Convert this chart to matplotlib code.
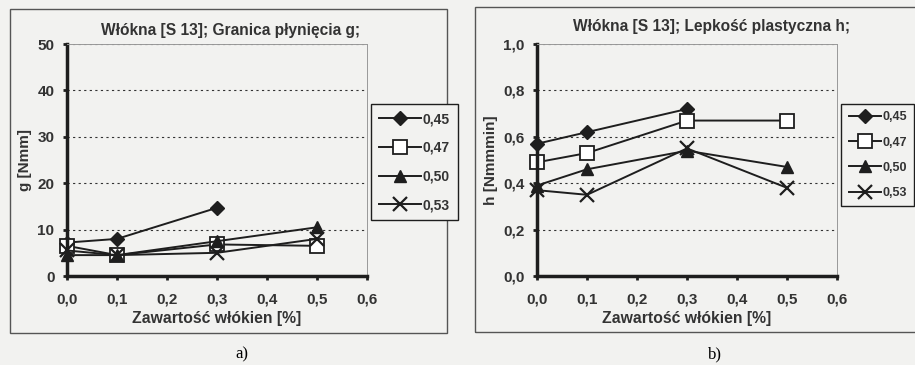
import numpy as np
import matplotlib.pyplot as plt
from matplotlib.patches import Rectangle
from matplotlib.lines import Line2D

plt.rcParams['font.family'] = ['Liberation Sans', 'DejaVu Sans']
plt.rcParams['font.weight'] = 'bold'
plt.rcParams['axes.labelweight'] = 'bold'

x = [0.0, 0.1, 0.3, 0.5]
series = ['0,45', '0,47', '0,50', '0,53']

# granica plyniecia g [Nmm]
g_045 = [7.2, 8.0, 14.7, np.nan]
g_047 = [6.5, 4.5, 6.8, 6.5]
g_050 = [4.5, 4.5, 7.5, 10.5]
g_053 = [5.5, 4.5, 5.0, 8.0]

# lepkosc plastyczna h [Nmmmin]
h_045 = [0.57, 0.62, 0.72, np.nan]
h_047 = [0.49, 0.53, 0.67, 0.67]
h_050 = [0.39, 0.46, 0.54, 0.47]
h_053 = [0.37, 0.35, 0.55, 0.38]

W, H = 915, 365
bg = '#f2f2f0'
ink = '#1e1e1e'
txt = '#333333'

markers = [dict(marker='D', ms=7, mfc=ink, mec=ink),
           dict(marker='s', ms=10, mfc='white', mec=ink, mew=1.3),
           dict(marker='^', ms=9, mfc=ink, mec=ink),
           dict(marker='x', ms=10, mec=ink, mew=1.6)]


def fx(px):
    return px / W


def fy(py):
    return 1 - py / H


fig = plt.figure(figsize=(W / 100, H / 100), dpi=100, facecolor=bg)

# ramki paneli
fig.patches.append(Rectangle((fx(10), fy(333)), fx(437), 324 / H, transform=fig.transFigure,
                             fill=False, ec='#555555', lw=1.0))
fig.patches.append(Rectangle((fx(475), fy(332)), fx(450), 325 / H, transform=fig.transFigure,
                             fill=False, ec='#555555', lw=1.0))


def panel(left, data, ylim, yticks, ylabels, title, ylabel, title_x, title_y):
    ax = fig.add_axes([fx(left), fy(276), fx(300), 232 / H])
    ax.set_facecolor(bg)
    for vals, m in zip(data, markers):
        ax.plot(x, vals, color=ink, lw=1.4, clip_on=False, **m)
    ax.set_xlim(0, 0.6)
    ax.set_ylim(*ylim)
    ax.set_xticks([0, 0.1, 0.2, 0.3, 0.4, 0.5, 0.6])
    ax.set_xticklabels(['0,0', '0,1', '0,2', '0,3', '0,4', '0,5', '0,6'])
    ax.set_yticks(yticks)
    ax.set_yticklabels(ylabels)
    ax.tick_params(labelsize=11, length=3, width=2, color=ink, labelcolor=txt)
    ax.tick_params(axis='x', pad=9)
    ax.tick_params(axis='y', pad=6)
    ax.grid(axis='y', ls=(0, (2, 3)), color=txt, lw=0.8)
    for s in ['left', 'bottom']:
        ax.spines[s].set_linewidth(2.5)
        ax.spines[s].set_color(ink)
    for s in ['top', 'right']:
        ax.spines[s].set_linewidth(0.7)
        ax.spines[s].set_color('#999999')
    ax.set_xlabel('Zawartość włókien [%]', fontsize=11.3, color=txt, labelpad=3)
    ax.set_ylabel(ylabel, fontsize=11, color=txt, labelpad=4)
    fig.text(fx(title_x), fy(title_y), title, ha='center', va='center', fontsize=11.2, color=txt)
    return ax


panel(67, [g_045, g_047, g_050, g_053], (0, 50), [0, 10, 20, 30, 40, 50],
      ['0', '10', '20', '30', '40', '50'],
      'Włókna [S 13]; Granica płynięcia g;', 'g [Nmm]', 231, 30)
panel(537, [h_045, h_047, h_050, h_053], (0, 1.0), [0, 0.2, 0.4, 0.6, 0.8, 1.0],
      ['0,0', '0,2', '0,4', '0,6', '0,8', '1,0'],
      'Włókna [S 13]; Lepkość plastyczna h;', 'h [Nmmmin]', 712, 27)

handles = [Line2D([], [], color=ink, lw=1.4, **m) for m in markers]
for lx, hl, fs in [(371, 3.0, 10), (841, 2.6, 9)]:
    leg = fig.legend(handles, series, loc='upper left', bbox_to_anchor=(fx(lx), fy(104)),
                     fontsize=fs, handlelength=hl, labelspacing=1.05, handletextpad=0.1,
                     borderpad=0.6, borderaxespad=0, fancybox=False, edgecolor=ink,
                     facecolor=bg, framealpha=1)
    leg.get_frame().set_linewidth(1.0)
    for t in leg.get_texts():
        t.set_color(txt)

fig.text(fx(242), fy(354), 'a)', ha='center', va='center', fontsize=12, fontweight='normal',
         family='Liberation Serif')
fig.text(fx(715), fy(354), 'b)', ha='center', va='center', fontsize=12, fontweight='normal',
         family='Liberation Serif')

fig.savefig('out.png', dpi=100, facecolor=bg)
